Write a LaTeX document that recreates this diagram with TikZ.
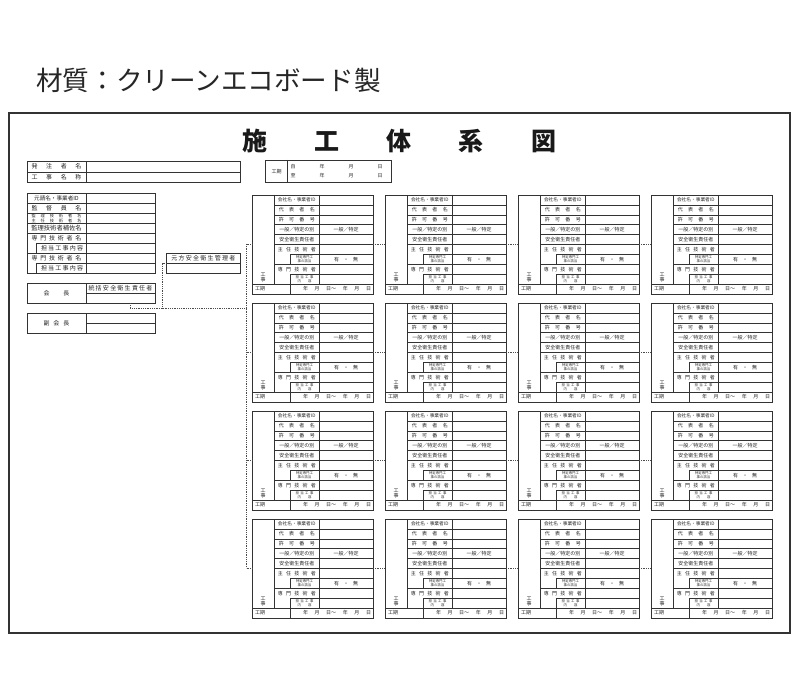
\documentclass[tikz,border=0pt]{standalone}
\usepackage{fontspec}
\newfontfamily\jp{Noto Sans CJK JP}
\newcommand\spr[2]{\makebox[#1pt][s]{#2}}
\tikzset{
  ln/.style={line width=0.55pt, draw=black!80},
  board/.style={line width=1.6pt, draw=black!80},
  dots/.style={line width=0.6pt, draw=black!70, dash pattern=on 0.7pt off 1.1pt},
  lb/.style={inner sep=0pt, text=black!85, font=\jp\fontsize{5}{5}\selectfont},
  lbs/.style={inner sep=0pt, text=black!85, align=center, font=\jp\fontsize{3.4}{3.9}\selectfont},
  lbl/.style={inner sep=0pt, text=black!85, font=\jp\fontsize{6}{6}\selectfont},
  lbt/.style={inner sep=0pt, text=black!85, align=center, font=\jp\fontsize{4.2}{4.5}\selectfont},
}
\newcommand\sgform[3]{%
\begin{scope}[shift={(#1,#2)}]
  \draw[ln] (0,0) rectangle (121,99);
  \draw[ln] (22.5,0) -- (22.5,89.1);
  \draw[ln] (67,0) -- (67,89.1);
  \foreach \k in {1,2,3,4,5,7} \draw[ln] (22.5,\k*9.9) -- (121,\k*9.9);
  \foreach \k in {6,8} \draw[ln] (38,\k*9.9) -- (121,\k*9.9);
  \draw[ln] (0,89.1) -- (121,89.1);
  \draw[ln] (38,59.4) -- (38,69.3);
  \draw[ln] (38,79.2) -- (38,99);
  \coordinate (#3-L) at (0,49);
  \coordinate (#3-R) at (121,49);
  \node[lb,font=\jp\fontsize{4.7}{5}\selectfont] (#3-a) at (44.75,4.95) {会社名・事業者ID};
  \node[lb] (#3-b) at (44.75,14.85) {\spr{36}{代\hfil 表\hfil 者\hfil 名}};
  \node[lb] (#3-c) at (44.75,24.75) {\spr{36}{許\hfil 可\hfil 番\hfil 号}};
  \node[lb] (#3-d) at (44.75,34.65) {一般／特定の別};
  \node[lb] (#3-dv) at (94,34.65) {一般／特定};
  \node[lb] (#3-e) at (44.75,44.55) {安全衛生責任者};
  \node[lb] (#3-f) at (44.75,54.45) {\spr{38}{主\hfil 任\hfil 技\hfil 術\hfil 者}};
  \node[lbs] (#3-g) at (52.5,64.35) {特定専門工\\事の該当};
  \node[lb] (#3-gv) at (94,64.35) {\spr{24}{有\hfil ・\hfil 無}};
  \node[lb] (#3-h) at (44.75,74.25) {\spr{38}{専\hfil 門\hfil 技\hfil 術\hfil 者}};
  \node[lbs] (#3-i) at (52.5,84.15) {\spr{18}{担\hfil 当\hfil 工\hfil 事}\\\spr{14}{内\hfil 容}};
  \node[lb] (#3-k1) at (11,79.5) {工};
  \node[lb] (#3-k2) at (11,85) {事};
  \node[lb,anchor=west] (#3-j) at (3,94.05) {工期};
  \node[lb] (#3-jv) at (85,94.05) {\spr{68}{年\hfil 月\hfil 日～\hfil 年\hfil 月\hfil 日}};
\end{scope}}
\begin{document}
\begin{tikzpicture}[x=1pt,y=-1pt]
\useasboundingbox (0,0) rectangle (800,700);
\fill[white] (0,0) rectangle (800,700);

% material caption
\node[anchor=west, inner sep=0pt, text=black!85, font=\jp\fontsize{26.6}{27}\selectfont] (material) at (36,80) {材質：クリーンエコボード製};

% board
\draw[board] (9,113) rectangle (790,633);

% title
\node[inner sep=0pt, text=black!90, font=\jp\bfseries\fontsize{25}{25}\selectfont] (title) at (399,141.5) {\spr{314}{施\hfil 工\hfil 体\hfil 系\hfil 図}};

% top-left table
\draw[ln] (27.3,161.3) rectangle (240,182.7);
\draw[ln] (27.3,172) -- (240,172);
\draw[ln] (86,161.3) -- (86,182.7);
\node[lbl] (hachu) at (56.5,166.65) {\spr{50}{発\hfil 注\hfil 者\hfil 名}};
\node[lbl] (koujimei) at (56.5,177.35) {\spr{50}{工\hfil 事\hfil 名\hfil 称}};

% period box
\draw[ln] (265.7,160) rectangle (391.7,182.7);
\draw[ln] (287.3,160) -- (287.3,182.7);
\node[lb] (kikan) at (276.5,171.3) {工期};
\node[lb] (kikan1) at (336.5,166.2) {\spr{92}{自\hfil 年\hfil 月\hfil 日}};
\node[lb] (kikan2) at (336.5,176) {\spr{92}{至\hfil 年\hfil 月\hfil 日}};

% prime contractor table
\draw[ln] (27.3,193.3) rectangle (155,273.3);
\draw[ln] (86,193.3) -- (86,273.3);
\foreach \yy in {203.3,213.3,223.3,233.3,253.3} \draw[ln] (27.3,\yy) -- (155,\yy);
\draw[ln] (36,243.3) -- (155,243.3);
\draw[ln] (36,263.3) -- (155,263.3);
\draw[ln] (36,243.3) -- (36,253.3);
\draw[ln] (36,263.3) -- (36,273.3);
\node[lbl,font=\jp\fontsize{5.6}{6}\selectfont] (p1) at (56.5,198.3) {元請名・事業者ID};
\node[lbl] (p2) at (56.5,208.3) {\spr{50}{監\hfil 督\hfil 員\hfil 名}};
\node[lbt] (p3) at (56.5,218.3) {\spr{50}{監\hfil 理\hfil 技\hfil 術\hfil 者\hfil 名}\\\spr{50}{主\hfil 任\hfil 技\hfil 術\hfil 者\hfil 名}};
\node[lbl,font=\jp\fontsize{6.3}{6.5}\selectfont] (p4) at (56.5,228.3) {監理技術者補佐名};
\node[lbl] (p5) at (56.5,238.3) {\spr{50}{専\hfil 門\hfil 技\hfil 術\hfil 者\hfil 名}};
\node[lbl] (p6) at (62,248.3) {\spr{42}{担\hfil 当\hfil 工\hfil 事\hfil 内\hfil 容}};
\node[lbl] (p7) at (56.5,258.3) {\spr{50}{専\hfil 門\hfil 技\hfil 術\hfil 者\hfil 名}};
\node[lbl] (p8) at (62,268.3) {\spr{42}{担\hfil 当\hfil 工\hfil 事\hfil 内\hfil 容}};

% chairman
\draw[ln] (27.3,283.3) rectangle (155,303.3);
\draw[ln] (86,283.3) -- (86,303.3);
\draw[ln] (86,293.3) -- (155,293.3);
\node[lbl] (kaicho) at (56.5,293.3) {\spr{26}{会\hfil 長}};
\node[lbl] (tokatsu) at (120.5,288.3) {\spr{64}{統\hfil 括\hfil 安\hfil 全\hfil 衛\hfil 生\hfil 責\hfil 任\hfil 者}};
\coordinate (kaicho-b) at (130,303.3);

% vice chairman
\draw[ln] (27.3,313.3) rectangle (155,333.3);
\draw[ln] (86,313.3) -- (86,333.3);
\draw[ln] (86,323.3) -- (155,323.3);
\node[lbl] (fukukaicho) at (56.5,323.3) {\spr{26}{副\hfil 会\hfil 長}};

% motokata manager
\draw[ln] (166.7,253.3) rectangle (240,273.3);
\draw[ln] (166.7,263.3) -- (240,263.3);
\node[lbl] (motokata) at (203.3,258.3) {\spr{64}{元\hfil 方\hfil 安\hfil 全\hfil 衛\hfil 生\hfil 管\hfil 理\hfil 者}};
\coordinate (motokata-w) at (166.7,263.3);

% subcontractor forms
\foreach \c in {1,...,4} {
  \foreach \r in {1,...,4} {
    \pgfmathsetmacro\fx{252+133*(\c-1)}
    \pgfmathsetmacro\fy{195+108*(\r-1)}
    \sgform{\fx}{\fy}{f\c\r}
  }
}

% connectors
\coordinate (trunkx) at (246.5,0);
\coordinate (join) at (246.5,308.3);
\coordinate (mkx) at (162.5,0);
\foreach \r in {1,...,4} \coordinate (t\r) at (f1\r-L -| trunkx);
\draw[dots] (t1) -- (t4);
\foreach \r in {1,...,4} {
  \draw[dots] (t\r) -- (f1\r-L);
  \draw[dots] (f1\r-R) -- (f2\r-L);
  \draw[dots] (f2\r-R) -- (f3\r-L);
  \draw[dots] (f3\r-R) -- (f4\r-L);
}
\draw[dots] (kaicho-b) |- (join);
\draw[dots] (motokata-w) -- (motokata-w -| mkx) -- (join -| mkx);
\end{tikzpicture}
\end{document}
